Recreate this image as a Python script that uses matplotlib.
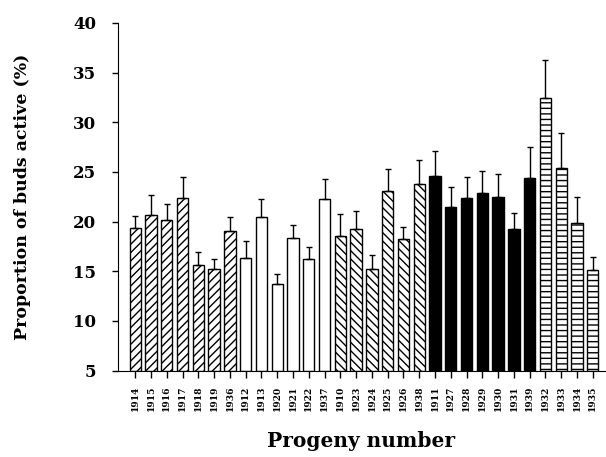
import matplotlib.pyplot as plt
import numpy as np

progeny = ['1914', '1915', '1916', '1917', '1918', '1919', '1936',
           '1912', '1913', '1920', '1921', '1922', '1937',
           '1910', '1923', '1924', '1925', '1926', '1938',
           '1911', '1927', '1928', '1929', '1930', '1931', '1939',
           '1932', '1933', '1934', '1935']
active = [19.4, 20.7, 20.2, 22.4, 15.6, 15.2, 19.1,
          16.3, 20.5, 13.7, 18.3, 16.2, 22.3,
          18.5, 19.3, 15.2, 23.1, 18.2, 23.8,
          24.6, 21.5, 22.4, 22.9, 22.5, 19.3, 24.4,
          32.4, 25.4, 19.9, 15.1]
upper = [20.6, 22.7, 21.8, 24.5, 16.9, 16.2, 20.5,
         18.0, 22.3, 14.7, 19.7, 17.4, 24.3,
         20.8, 21.1, 16.6, 25.3, 19.5, 26.2,
         27.1, 23.5, 24.5, 25.1, 24.8, 20.9, 27.5,
         36.3, 28.9, 22.5, 16.4]
group = [0] * 7 + [1] * 6 + [2] * 6 + [3] * 7 + [4] * 4

# fill colour and hatch for each progeny group
styles = {0: ('white', '////'),
          1: ('white', ''),
          2: ('white', '\\\\\\\\'),
          3: ('black', ''),
          4: ('white', '---')}

plt.rcParams['hatch.linewidth'] = 1.0
fig = plt.figure(figsize=(6.06, 4.57), dpi=100)
ax = fig.add_axes([0.195, 0.189, 0.803, 0.761])

x = np.arange(len(progeny))
active = np.array(active)
err = np.array(upper) - active
for xi, v, e, g in zip(x, active, err, group):
    fc, h = styles[g]
    ax.bar(xi, v - 5, bottom=5, width=0.72, color=fc, edgecolor='black',
           hatch=h, linewidth=1.0)
    ax.errorbar(xi, v, yerr=[[0], [e]], fmt='none', ecolor='black',
                elinewidth=1.0, capsize=2.5, capthick=1.0)

ax.set_xlim(-1.08, 29.76)
ax.set_ylim(5, 40)
ax.set_yticks(range(5, 41, 5))
ax.set_xticks(x)
ax.set_xticklabels(progeny, rotation=90, fontsize=6.5, fontweight='bold',
                   family='DejaVu Serif')
for lbl in ax.get_yticklabels():
    lbl.set_fontsize(12)
    lbl.set_fontweight('bold')
    lbl.set_family('DejaVu Serif')
ax.tick_params(axis='x', length=5, width=1, direction='out', pad=6)
ax.tick_params(axis='y', length=4, width=1, direction='out', pad=12)
ax.spines['top'].set_visible(False)
ax.spines['right'].set_visible(False)

ax.set_ylabel('Proportion of buds active (%)', fontsize=12.5,
              fontweight='bold', family='DejaVu Serif', labelpad=30)
ax.set_xlabel('Progeny number', fontsize=14.5, fontweight='bold',
              family='DejaVu Serif', labelpad=14)

fig.savefig('out.png', dpi=100)
